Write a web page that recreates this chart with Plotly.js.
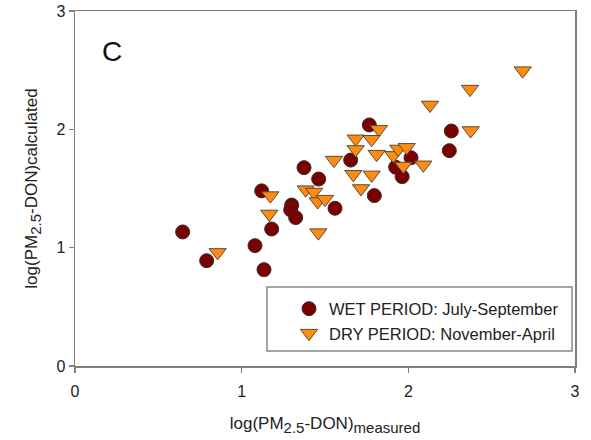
<!DOCTYPE html>
<html>
<head>
<meta charset="utf-8">
<script src="https://cdn.plot.ly/plotly-3.0.1.min.js"></script>
<style>html,body{margin:0;padding:0;background:#fff;}#chart{width:591px;height:440px;}</style>
</head>
<body>
<div id="chart"></div>
<script>
var wetX = [0.646,0.79,1.134,1.08,1.18,1.12,1.30,1.294,1.324,1.374,1.462,1.56,1.766,2.258,2.246,1.654,2.016,1.924,1.963,1.796];
var wetY = [1.133,0.89,0.814,1.017,1.158,1.48,1.36,1.32,1.254,1.676,1.58,1.333,2.037,1.986,1.82,1.74,1.76,1.68,1.60,1.44];
var dryX = [0.856,1.172,1.166,1.384,1.434,1.456,1.50,1.46,1.554,2.686,2.37,2.13,2.374,1.824,1.684,1.78,1.684,1.81,1.91,1.94,1.99,1.97,2.09,1.67,1.78,1.716];
var dryY = [0.96,1.44,1.285,1.49,1.47,1.39,1.41,1.127,1.74,2.496,2.34,2.206,1.99,2.0,1.92,1.916,1.83,1.79,1.78,1.834,1.848,1.69,1.70,1.62,1.615,1.50];
var wetName = "WET PERIOD: July-September";
var dryName = "DRY PERIOD: November-April";
var tickVals = [0,1,2,3];
var tickText = ["0","1","2","3"];

var SUB = function (s) { return "<span style=\"font-size:15px;baseline-shift:-4px\">" + s + "</span>"; };

var traces = [
  {x: wetX, y: wetY, name: wetName, type: "scatter", mode: "markers",
   marker: {symbol: "circle", size: 14, color: "#7a0000", line: {color: "#3a2a2a", width: 1}}},
  {x: dryX, y: dryY, name: dryName, type: "scatter", mode: "markers",
   marker: {symbol: "triangle-down", size: 15, color: "#ff8c10", line: {color: "#5a4a3a", width: 1}}}
];
var axisCommon = {
  range: [0,3], tickmode: "array", tickvals: tickVals, ticktext: tickText,
  showgrid: false, zeroline: false, showline: true, linecolor: "#808080", linewidth: 1.5,
  mirror: true, ticks: "outside", ticklen: 5, tickcolor: "#808080", tickwidth: 1.5,
  tickfont: {family: "Liberation Sans, Arial", size: 16, color: "#222"}
};
var layout = {
  width: 591, height: 440,
  margin: {l: 75, r: 16, t: 11, b: 74},
  paper_bgcolor: "#fff", plot_bgcolor: "#fff",
  font: {family: "Liberation Sans, Arial", color: "#222"},
  xaxis: Object.assign({}, axisCommon, {
    ticklabelstandoff: 5,
    title: {text: "log(PM" + SUB("2.5") + "-DON)" + SUB("measured"), font: {size: 17, color: "#222"}, standoff: 18}
  }),
  yaxis: Object.assign({}, axisCommon, {
    title: {text: "log(PM" + SUB("2.5") + "-DON)calculated", font: {size: 17, color: "#222"}, standoff: 14}
  }),
  showlegend: true,
  legend: {x: 0.428, y: 0.21, xanchor: "left", yanchor: "top", bgcolor: "rgba(0,0,0,0)",
    borderwidth: 0, font: {size: 16.5, color: "#222"}, tracegroupgap: 0},
  shapes: [{type: "rect", xref: "paper", yref: "paper", x0: 0.384, x1: 0.994, y0: 0.042, y1: 0.2225,
    line: {color: "#888", width: 1.5}, fillcolor: "rgba(0,0,0,0)"}],
  annotations: [{text: "C", xref: "paper", yref: "paper", x: 0.074, y: 0.885, showarrow: false,
    font: {size: 28, color: "#111"}, xanchor: "center", yanchor: "middle"}]
};
Plotly.newPlot("chart", traces, layout, {displayModeBar: false, staticPlot: true});
</script>
</body>
</html>
